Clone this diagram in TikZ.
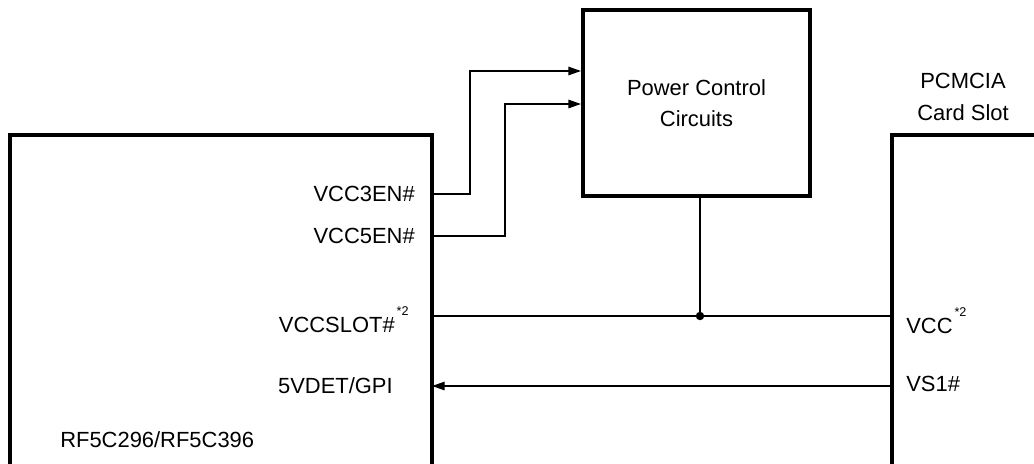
\documentclass[tikz,border=0pt]{standalone}
\usepackage{fontspec}
\setmainfont{Liberation Sans}
\usepackage{tikz}
\usetikzlibrary{arrows.meta,positioning}

\begin{document}
\begin{tikzpicture}[x=0.025cm, y=-0.025cm, >={Triangle[length=9pt,width=6pt]}]
        \tikzset{chip/.style={line width=2.8pt}}
        \tikzset{wire/.style={line width=1pt}}
        \tikzset{pin/.style={font=\fontsize{15.6}{22}\selectfont, inner sep=0pt}}
        \tikzset{star/.style={font=\fontsize{9}{10}\selectfont, inner sep=0pt}}
        \useasboundingbox (0,0) rectangle (1034,463);

        % Controller (open at the bottom)
        \draw [chip] (10,470) -- (10,135) -- (432,135) -- (432,470);
        \node [pin, anchor=west] (ctrl) at (60,440) {RF5C296/RF5C396};

        % Power control block
        \node [chip, draw, minimum width=227*0.025cm, minimum height=186*0.025cm,
               align=center, pin, font=\fontsize{15.6}{22}\selectfont] (pwr) at (696.5,103)
               {Power Control\\Circuits};
        % Card slot (open at the bottom and right)
        \draw [chip] (892,470) -- (892,135) -- (1040,135);
        \node [pin, align=center, font=\fontsize{15.6}{23}\selectfont] (slot) at (963,97) {PCMCIA\\Card Slot};

        % Pin labels
        \node [pin, anchor=east] (vcc3) at (415,194) {VCC3EN\#};
        \node [pin, anchor=east] (vcc5) at (415,236) {VCC5EN\#};
        \node [pin, anchor=east] (vccslot) at (395,325) {VCCSLOT\#};
        \node [star, anchor=south west] at ([xshift=1pt,yshift=1pt]vccslot.north east) {*2};
        \node [pin, anchor=east] (det) at (393,386) {5VDET/GPI};
        \node [pin, anchor=west] (vcc) at (906,326) {VCC};
        \node [star, anchor=south west] at ([xshift=1pt,yshift=1pt]vcc.north east) {*2};
        \node [pin, anchor=west] (vs) at (906,384) {VS1\#};

        % Connection points
        \coordinate (p3) at (432,194);
        \coordinate (p5) at (432,236);
        \coordinate (pslot) at (432,316);
        \coordinate (pdet) at (432,386);
        \coordinate (svcc) at (892,316);
        \coordinate (svs) at (892,386);
        \coordinate (j) at (700,316);

        % Wires
        \draw [wire, ->] (p3) -- (470,194) -- (470,71) -- (pwr.west |- 0,71);
        \draw [wire, ->] (p5) -- (505,236) -- (505,104) -- (pwr.west |- 0,104);
        \draw [wire] (pslot) -- (svcc);
        \draw [wire] (pwr.south -| j) -- (j);
        \fill (j) circle (3pt);
        \draw [wire, ->] (svs) -- (pdet);
\end{tikzpicture}
\end{document}
